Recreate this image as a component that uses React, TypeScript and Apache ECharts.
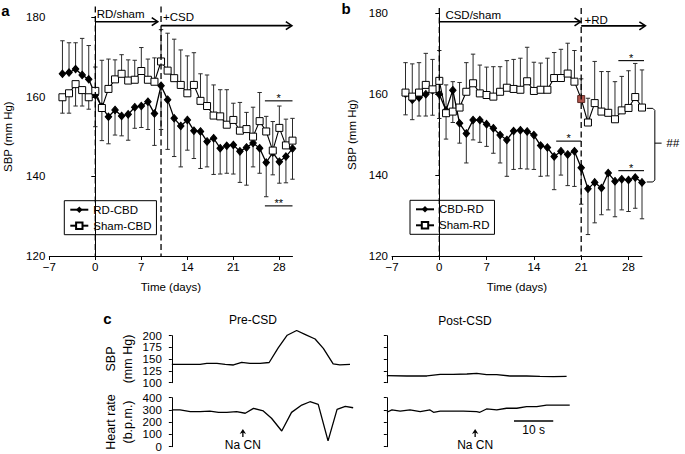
import React, { useEffect, useRef } from "react";
import * as echarts from "echarts";

const FONT = '"Liberation Sans", Arial, Helvetica, sans-serif';

// ---------- Panels a & b : daily SBP (mm Hg) ----------
const days = [-5, -4, -3, -2, -1, 0, 1, 2, 3, 4, 5, 6, 7, 8, 9, 10, 11, 12, 13, 14, 15, 16, 17, 18, 19, 20, 21, 22, 23, 24, 25, 26, 27, 28, 29, 30];
const xTickValues = [-7, 0, 7, 14, 21, 28];

// panel a
const rdCbd = [165.8, 166.1, 167.0, 165.5, 164.4, 160.5, 157.5, 155.0, 156.7, 155.2, 155.6, 157.4, 157.7, 158.8, 155.8, 162.8, 159.3, 154.6, 152.7, 154.2, 151.5, 151.3, 148.8, 149.6, 147.1, 147.7, 147.9, 146.3, 147.3, 148.4, 147.1, 143.5, 146.0, 143.7, 145.0, 147.0];
const rdCbdErr = [8.3, 7.5, 6.6, 9.2, 8.5, -8, -8.5, -6.8, -6.3, -5, -6.5, -5.3, -5.4, -7, -8, -11, -12.5, -9.6, -10.3, -7.6, -7, -9.3, -6.4, -9.1, -6.5, -6.9, -7.3, -7.8, -9.5, -6, -6.3, -8.6, -5.6, -5.4, -6.6, -7.7];
const shamCbd = [159.9, 160.9, 163.2, 161.7, 159.9, 161.5, 157.2, 162.0, 164.4, 165.8, 164.1, 164.3, 166.5, 164.3, 163.8, 168.9, 166.6, 164.7, 163.0, 160.9, 163.0, 159.0, 157.7, 155.3, 155.1, 153.0, 154.2, 151.5, 151.9, 150.0, 153.9, 151.3, 146.5, 152.2, 147.8, 149.0];
const shamCbdErr = [-4, -5, -5.5, -4, -3, 6, 12, 7.5, 4.9, 4.8, 5.2, 4.9, 5.9, 5.2, 6, 8, 9.4, 9.8, 8.8, 9.4, 8.1, 6.8, 7.8, 7.7, 6.7, 8.8, 4.2, 7.1, 4.2, 7.4, 7.2, 3.8, 7.3, 5.5, 6.6, 5.6];

// panel b
const cbdRd = [160.1, 158.6, 159.2, 160.0, 161.0, 160.0, 156.0, 161.0, 152.8, 150.3, 153.6, 153.6, 152.6, 151.6, 149.9, 148.7, 150.9, 151.1, 150.8, 149.9, 147.3, 146.8, 144.6, 145.9, 145.1, 145.9, 141.8, 136.6, 138.2, 136.8, 140.5, 138.5, 139.0, 138.8, 139.4, 138.2];
const cbdRdErr = [-5.2, -4.9, -4.6, -5.4, -6.2, -6, -7.1, -8, -4.9, -7.3, -4.9, -5.5, -5.5, -6.2, -6.9, -9, -9.5, -9.5, -9.3, -8.5, -7.6, -7, -8.2, -5.9, -7.7, -8.7, -9, -11.3, -10, -6.6, -9.1, -8.8, -7.6, -7.8, -7.6, -9];
const shamRd = [160.4, 159.4, 160.4, 162.3, 161.2, 163.3, 155.3, 155.7, 156.7, 160.6, 162.7, 160.2, 159.8, 159.4, 160.6, 161.6, 161.3, 161.1, 163.2, 160.8, 161.1, 161.1, 164.0, 164.0, 165.1, 163.1, 158.8, 153.0, 157.8, 155.7, 155.4, 153.8, 156.0, 156.6, 159.3, 156.7];
const shamRdErr = [7.4, 8.1, 7.4, 7.8, 7.4, 7.5, 7, 7.4, 6.2, 7.2, 7.2, 7, 6.9, 7.4, 6.2, 6.7, 7.3, 7.8, 8.4, 7.1, 6.6, 7.8, 6.3, 7.1, 7.5, 7.7, 5, 6, 10.3, 9.9, 10.2, 9.3, 8.4, 9.2, 8.3, 9.3];
const highlightDay = 21;

// ---------- Panel c : traces (time in s) ----------
const sbpTickLabels = [100, 125, 150, 175, 200];
const hrTickLabels = [0, 100, 200, 300, 400];
const preSbpT = [0, 3.8, 7.2, 8.9, 11.5, 13.6, 15.7, 17.8, 19.9, 22.5, 24.8, 27.1, 29.4, 31.8, 33.9, 36.5, 38.6, 41.1, 42.8, 45.4];
const preSbp = [139, 139, 139, 141, 141, 139, 137.7, 143.4, 141, 141, 143, 174, 201, 211, 203, 193, 173, 140, 138, 139];
const preHrT = [0, 2.1, 4.7, 7.2, 9.7, 11.9, 14, 16.5, 18.7, 20.8, 23.3, 25.4, 28, 30.5, 33.1, 35.2, 37.3, 39.8, 42.1, 44.2, 46.2];
const preHr = [300, 300, 286, 286, 291, 281, 281, 286, 273, 313, 292, 232, 128, 280, 340, 367, 346, 47, 305, 330, 318];
const postSbpT = [0, 5.1, 10.2, 13.6, 16.9, 20.4, 22.9, 25.4, 28, 31.4, 35.6, 39, 42.4, 45.8];
const postSbp = [115, 114.3, 114.3, 117.8, 117.8, 118.5, 120, 117, 117, 114.3, 114.3, 113.5, 112.8, 113.5];
const postHrT = [0, 1.3, 3.4, 5.9, 8.5, 11, 11.9, 13.6, 16.9, 19.5, 22.9, 23.7, 25.4, 28, 30.5, 33.1, 35.6, 38.2, 40.7, 43.3, 46.6];
const postHr = [281, 300, 291, 300, 286, 300, 281, 291, 291, 291, 286, 281, 308, 300, 314, 314, 327, 327, 340, 340, 340];
const traceXMin = -0.9;
const traceXMax = 47;

// ---------- annotations (data coordinates) ----------
type Ann = any;
const annA: Ann[] = [
  { kind: "vdash", x: 0, y1: 182.7, y2: 120 },
  { kind: "vdash", x: 10, y1: 182.7, y2: 120 },
  { kind: "arrow", x1: 0, x2: 9.5, y: 178.9 },
  { kind: "arrow", x1: 10, x2: 29.9, y: 177.9 },
  { kind: "text", x: 0.2, y: 180.8, text: "RD/sham" },
  { kind: "text", x: 10.3, y: 180.0, text: "+CSD" },
  { kind: "sig", x1: 25.8, x2: 30, y: 159.0, text: "*" },
  { kind: "sig", x1: 25.8, x2: 30, y: 132.6, text: "**" },
];
const annB: Ann[] = [
  { kind: "vdash", x: 0, y1: 181.3, y2: 120 },
  { kind: "vdash", x: 21, y1: 181.3, y2: 120 },
  { kind: "arrow", x1: 0, x2: 20.9, y: 177.9 },
  { kind: "arrow", x1: 21, x2: 30.5, y: 176.9 },
  { kind: "text", x: 0.9, y: 179.7, text: "CSD/sham" },
  { kind: "text", x: 21.5, y: 178.3, text: "+RD" },
  { kind: "sig", x1: 17.3, x2: 21, y: 148.4, text: "*" },
  { kind: "sig", x1: 26.5, x2: 30.3, y: 168.3, text: "*" },
  { kind: "sig", x1: 26.5, x2: 30.3, y: 141.1, text: "*" },
  { kind: "brace", x1: 30.7, x2: 31.9, xt: 32.9, y1: 156.5, y2: 138.3, ym: 147.9 },
  { kind: "text", x: 33.6, y: 147.9, text: "##", italic: true },
];
const annPreSbp: Ann[] = sbpTickLabels.map((v) => ({ kind: "tick", x: traceXMin, y: v, text: String(v) }));
const annPreHr: Ann[] = [
  ...hrTickLabels.map((v) => ({ kind: "tick", x: traceXMin, y: v, text: String(v) })),
  { kind: "nacn", x: 18.1, y: 144, yText: 14 },
];
const annPostHr: Ann[] = [
  { kind: "nacn", x: 22.5, y: 144, yText: 14 },
  { kind: "scalebar", x1: 32.4, x2: 42.4, y: 210, yText: 140, text: "10 s" },
];

function errorBarRender(params: any, api: any) {
  const x = api.value(0);
  const v = api.value(1);
  const e = api.value(2);
  const p0 = api.coord([x, v]);
  const p1 = api.coord([x, v + e]);
  const st = { stroke: "#2a2a2a", lineWidth: 1 };
  return {
    type: "group",
    children: [
      { type: "line", shape: { x1: p0[0], y1: p0[1], x2: p1[0], y2: p1[1] }, style: st },
      { type: "line", shape: { x1: p1[0] - 2.2, y1: p1[1], x2: p1[0] + 2.2, y2: p1[1] }, style: st },
    ],
  };
}

function makeAnnRender(anns: Ann[]) {
  return (params: any, api: any) => {
    const a = anns[params.dataIndex];
    const c = (x: number, y: number) => api.coord([x, y]);
    const black = "#000";
    if (a.kind === "vdash") {
      const p1 = c(a.x, a.y1), p2 = c(a.x, a.y2);
      return { type: "line", shape: { x1: p1[0], y1: p1[1], x2: p2[0], y2: p2[1] }, style: { stroke: black, lineWidth: 1.3, lineDash: [6, 3.5] } };
    }
    if (a.kind === "arrow") {
      const p1 = c(a.x1, a.y), p2 = c(a.x2, a.y);
      return {
        type: "group",
        children: [
          { type: "line", shape: { x1: p1[0], y1: p1[1], x2: p2[0] - 1, y2: p2[1] }, style: { stroke: black, lineWidth: 1.6 } },
          { type: "polyline", shape: { points: [[p2[0] - 6, p2[1] - 4], [p2[0], p2[1]], [p2[0] - 6, p2[1] + 4]] }, style: { stroke: black, lineWidth: 1.6, fill: "none" } },
        ],
      };
    }
    if (a.kind === "text") {
      const p = c(a.x, a.y);
      return { type: "text", x: p[0], y: p[1], style: { text: a.text, fill: black, fontSize: 11.5, fontFamily: FONT, fontStyle: a.italic ? "italic" : "normal", align: "left", verticalAlign: "middle" } };
    }
    if (a.kind === "tick") {
      const p = c(a.x, a.y);
      return { type: "text", x: p[0] - 6.5, y: p[1], style: { text: a.text, fill: black, fontSize: 11.5, fontFamily: FONT, align: "right", verticalAlign: "middle" } };
    }
    if (a.kind === "sig") {
      const p1 = c(a.x1, a.y), p2 = c(a.x2, a.y);
      return {
        type: "group",
        children: [
          { type: "line", shape: { x1: p1[0], y1: p1[1], x2: p2[0], y2: p2[1] }, style: { stroke: black, lineWidth: 1.1 } },
          { type: "text", x: (p1[0] + p2[0]) / 2, y: p1[1] - 3, style: { text: a.text, fill: black, fontSize: 11, fontFamily: FONT, align: "center", verticalAlign: "middle" } },
        ],
      };
    }
    if (a.kind === "brace") {
      const t1 = c(a.x1, a.y1), t2 = c(a.x2, a.y1), b1 = c(a.x1, a.y2), b2 = c(a.x2, a.y2);
      const m = c(a.x2, a.ym), mt = c(a.xt, a.ym);
      return {
        type: "group",
        children: [
          { type: "polyline", shape: { points: [[t1[0], t1[1]], [t2[0] - 2, t2[1]], [t2[0], t2[1] + 2], [b2[0], b2[1] - 2], [b2[0] - 2, b2[1]], [b1[0], b1[1]]] }, style: { stroke: black, lineWidth: 1, fill: "none" } },
          { type: "line", shape: { x1: m[0], y1: m[1], x2: mt[0], y2: mt[1] }, style: { stroke: black, lineWidth: 1 } },
        ],
      };
    }
    if (a.kind === "nacn") {
      const tip = c(a.x, a.y);
      const tx = c(a.x, a.yText);
      return {
        type: "group",
        children: [
          { type: "polygon", shape: { points: [[tip[0], tip[1]], [tip[0] + 3.2, tip[1] + 5], [tip[0], tip[1] + 3.5], [tip[0] - 3.2, tip[1] + 5]] }, style: { fill: black } },
          { type: "line", shape: { x1: tip[0], y1: tip[1] + 3, x2: tip[0], y2: tip[1] + 8 }, style: { stroke: black, lineWidth: 1.3 } },
          { type: "text", x: tx[0], y: tx[1], style: { text: "Na CN", fill: black, fontSize: 12, fontFamily: FONT, align: "center", verticalAlign: "middle" } },
        ],
      };
    }
    if (a.kind === "scalebar") {
      const p1 = c(a.x1, a.y), p2 = c(a.x2, a.y), tx = c((a.x1 + a.x2) / 2, a.yText);
      return {
        type: "group",
        children: [
          { type: "line", shape: { x1: p1[0], y1: p1[1], x2: p2[0], y2: p2[1] }, style: { stroke: black, lineWidth: 1.3 } },
          { type: "text", x: tx[0], y: tx[1], style: { text: a.text, fill: black, fontSize: 12, fontFamily: FONT, align: "center", verticalAlign: "middle" } },
        ],
      };
    }
    return null;
  };
}

const axisLineStyle = { lineStyle: { color: "#000", width: 1 } };
const minusFmt = (v: number) => String(v).replace("-", "\u2212");

function panelXAxis(gridIndex: number) {
  return {
    type: "value",
    gridIndex,
    min: -7,
    max: 30,
    axisLine: { show: true, onZero: false, ...axisLineStyle },
    axisTick: { show: true, length: 4, customValues: xTickValues, lineStyle: { color: "#000" } },
    axisLabel: { show: true, customValues: xTickValues, formatter: minusFmt, color: "#000", fontSize: 11.5, fontFamily: FONT, margin: 5 },
    splitLine: { show: false },
    name: "Time (days)",
    nameLocation: "middle",
    nameGap: 25,
    nameTextStyle: { color: "#000", fontSize: 11.5, fontFamily: FONT },
  };
}
function panelYAxis(gridIndex: number, gap: number) {
  return {
    type: "value",
    gridIndex,
    min: 120,
    max: 180,
    interval: 20,
    axisLine: { show: true, ...axisLineStyle },
    axisTick: { show: true, length: 4, lineStyle: { color: "#000" } },
    axisLabel: { color: "#000", fontSize: 11.5, fontFamily: FONT, margin: 4 },
    splitLine: { show: false },
    name: "SBP (mm Hg)",
    nameLocation: "middle",
    nameGap: gap,
    nameTextStyle: { color: "#000", fontSize: 11.5, fontFamily: FONT },
  };
}
function traceXAxis(gridIndex: number) {
  return { type: "value", gridIndex, min: traceXMin, max: traceXMax, show: false };
}
function traceYAxis(gridIndex: number, min: number, max: number, interval: number) {
  return {
    type: "value",
    gridIndex,
    min,
    max,
    interval,
    axisLine: { show: true, ...axisLineStyle },
    axisTick: { show: true, length: 3, lineStyle: { color: "#000" } },
    axisLabel: { show: false },
    splitLine: { show: false },
  };
}

const pair = (xs: number[], ys: number[]) => xs.map((x, i) => [x, ys[i]]);
const errData = (vals: number[], errs: number[]) => days.map((d, i) => [d, vals[i], errs[i]]);

function diamondSeries(name: string, vals: number[], xi: number, yi: number) {
  return {
    type: "line",
    name,
    xAxisIndex: xi,
    yAxisIndex: yi,
    data: pair(days, vals),
    symbol: "diamond",
    symbolSize: [6.5, 7.5],
    lineStyle: { color: "#000", width: 1.3 },
    itemStyle: { color: "#000", borderColor: "#000" },
    z: 4,
  };
}
function squareSeries(name: string, vals: number[], xi: number, yi: number, highlight?: number) {
  return {
    type: "line",
    name,
    xAxisIndex: xi,
    yAxisIndex: yi,
    data: days.map((d, i) =>
      d === highlight
        ? { value: [d, vals[i]], itemStyle: { color: "#b0534b", borderColor: "#5a2a26" } }
        : [d, vals[i]]
    ),
    symbol: "rect",
    symbolSize: 7,
    lineStyle: { color: "#000", width: 1.1 },
    itemStyle: { color: "#fff", borderColor: "#000", borderWidth: 1 },
    z: 5,
  };
}
function errSeries(vals: number[], errs: number[], xi: number, yi: number) {
  return { type: "custom", xAxisIndex: xi, yAxisIndex: yi, data: errData(vals, errs), renderItem: errorBarRender, silent: true, clip: false, z: 2 };
}
function annSeries(anns: Ann[], xi: number, yi: number) {
  return {
    type: "custom",
    xAxisIndex: xi,
    yAxisIndex: yi,
    data: anns.map((a) => [a.x ?? a.x1, a.y ?? a.y1]),
    renderItem: makeAnnRender(anns),
    silent: true,
    clip: false,
    z: 6,
  };
}
function traceSeries(xs: number[], ys: number[], xi: number, yi: number) {
  return {
    type: "line",
    xAxisIndex: xi,
    yAxisIndex: yi,
    data: pair(xs, ys),
    showSymbol: false,
    symbol: "none",
    clip: false,
    lineStyle: { color: "#000", width: 1.3 },
    z: 3,
  };
}

const legendBase = {
  orient: "vertical",
  borderColor: "#000",
  borderWidth: 1,
  borderRadius: 0,
  padding: [3, 5, 3, 5],
  itemGap: 4,
  itemWidth: 18,
  itemHeight: 8,
  textStyle: { color: "#000", fontSize: 11.5, fontFamily: FONT },
  selectedMode: false,
};

function gText(x: number, y: number, text: string, opts: any = {}) {
  return {
    type: "text",
    x,
    y,
    rotation: opts.rotation || 0,
    style: {
      text,
      fill: "#000",
      fontSize: opts.fontSize || 12,
      fontWeight: opts.bold ? "bold" : "normal",
      fontFamily: FONT,
      align: "center",
      verticalAlign: "middle",
      lineHeight: opts.lineHeight || 14,
    },
  };
}

export default function App() {
  const ref = useRef<HTMLDivElement>(null);
  useEffect(() => {
    document.body.style.margin = "0";
    const chart = echarts.init(ref.current!, undefined, { renderer: "svg" });
    const option: any = {
      animation: false,
      backgroundColor: "#fff",
      textStyle: { fontFamily: FONT },
      grid: [
        { left: 49.3, top: 17.3, width: 243.2, height: 238.7 },
        { left: 392, top: 13.3, width: 250, height: 242.7 },
        { left: 168.3, top: 335.7, width: 188, height: 47 },
        { left: 168.3, top: 397.7, width: 188, height: 49 },
        { left: 383.3, top: 335.7, width: 188, height: 47 },
        { left: 383.3, top: 397.7, width: 188, height: 49 },
      ],
      xAxis: [panelXAxis(0), panelXAxis(1), traceXAxis(2), traceXAxis(3), traceXAxis(4), traceXAxis(5)],
      yAxis: [
        panelYAxis(0, 35),
        panelYAxis(1, 34),
        traceYAxis(2, 100, 200, 25),
        traceYAxis(3, 0, 400, 100),
        traceYAxis(4, 100, 200, 25),
        traceYAxis(5, 0, 400, 100),
      ],
      legend: [
        { ...legendBase, data: ["RD-CBD", "Sham-CBD"], left: 64.3, top: 200.7 },
        { ...legendBase, data: ["CBD-RD", "Sham-RD"], left: 410, top: 200.3 },
      ],
      series: [
        errSeries(rdCbd, rdCbdErr, 0, 0),
        errSeries(shamCbd, shamCbdErr, 0, 0),
        diamondSeries("RD-CBD", rdCbd, 0, 0),
        squareSeries("Sham-CBD", shamCbd, 0, 0),
        annSeries(annA, 0, 0),
        errSeries(cbdRd, cbdRdErr, 1, 1),
        errSeries(shamRd, shamRdErr, 1, 1),
        diamondSeries("CBD-RD", cbdRd, 1, 1),
        squareSeries("Sham-RD", shamRd, 1, 1, highlightDay),
        annSeries(annB, 1, 1),
        traceSeries(preSbpT, preSbp, 2, 2),
        traceSeries(preHrT, preHr, 3, 3),
        traceSeries(postSbpT, postSbp, 4, 4),
        traceSeries(postHrT, postHr, 5, 5),
        annSeries(annPreSbp, 2, 2),
        annSeries(annPreHr, 3, 3),
        annSeries(annPostHr, 5, 5),
      ],
      graphic: [
        gText(5.5, 10.5, "a", { bold: true, fontSize: 15 }),
        gText(346, 8.5, "b", { bold: true, fontSize: 15 }),
        gText(107.5, 318, "c", { bold: true, fontSize: 15 }),
        gText(253, 320, "Pre-CSD", { fontSize: 12 }),
        gText(465, 321, "Post-CSD", { fontSize: 12 }),
        gText(119.5, 359, "SBP\n(mm Hg)", { fontSize: 12.5, rotation: Math.PI / 2, lineHeight: 17 }),
        gText(119.5, 422, "Heart rate\n(b.p.m.)", { fontSize: 12.5, rotation: Math.PI / 2, lineHeight: 17 }),
      ],
    };
    chart.setOption(option);
    return () => chart.dispose();
  }, []);
  return <div ref={ref} style={{ width: 685, height: 454, background: "#fff" }} />;
}
